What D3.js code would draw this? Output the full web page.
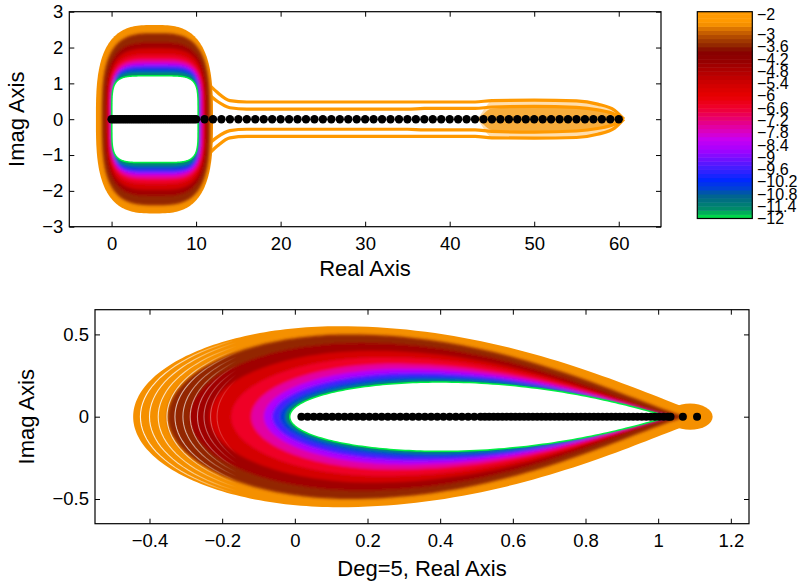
<!DOCTYPE html>
<html>
<head>
<meta charset="utf-8">
<script src="https://cdn.jsdelivr.net/npm/d3@7"></script>
<style>
  body { margin: 0; background: #fff; }
  svg { display: block; font-family: "Liberation Sans", Arial, sans-serif; }
  .tick text { font-size: 18.5px; fill: #000; }
  .tick line { stroke: #000; }
</style>
</head>
<body>
<div id="chart"></div>
<script>
// contour levels (log10 epsilon)
const levels = [-2, -3, -4, -5, -6, -7, -8, -9, -10, -11, -12]

// top panel: blob contours, one value per level
const topLeft  = [-1.85, -1.15, -0.8, -0.55, -0.35, -0.2, -0.08, 0.0, 0.05, 0.09, 0.12]
const topRight = [12.0, 11.65, 11.35, 11.1, 10.9, 10.75, 10.6, 10.48, 10.37, 10.26, 10.15]
const topHalf  = [2.63, 2.40, 2.15, 1.97, 1.80, 1.66, 1.56, 1.49, 1.42, 1.32, 1.19]
const topPower = [3.0, 3.2, 3.4, 3.6, 3.8, 4.0, 4.3, 4.6, 4.9, 5.2, 5.5]

// top panel: thin orange strips along the tail
const tailX     = [11, 12.5, 14, 16, 25, 35, 37, 43, 45, 50, 55, 57.5, 59.5, 60.6]
const tailOuter = [1.1, 0.75, 0.52, 0.48, 0.48, 0.48, 0.48, 0.48, 0.52, 0.53, 0.51, 0.42, 0.25, 0]
const tailInner = [0.8, 0.5, 0.32, 0.28, 0.28, 0.28, 0.30, 0.30, 0.34, 0.36, 0.33, 0.26, 0.14, 0]
const tailGlow  = [0, 0, 0, 0, 0, 0, 0, 0, 0.5, 0.52, 0.5, 0.42, 0.25, 0]
const tailCore  = [0, 0, 0, 0, 0, 0, 0, 0, 0.3, 0.34, 0.31, 0.25, 0.13, 0]

const topEigs = [0, 0.25, 0.5, 0.75, 1, 1.25, 1.5, 1.75, 2, 2.25, 2.5, 2.75, 3, 3.25, 3.5, 3.75,
  4, 4.25, 4.5, 4.75, 5, 5.25, 5.5, 5.75, 6, 6.25, 6.5, 6.75, 7, 7.25, 7.5, 7.75, 8, 8.25, 8.5,
  8.75, 9, 9.25, 9.5, 9.75, 10, 11, 12, 13, 14, 15, 16, 17, 18, 19, 20, 21, 22, 23, 24, 25, 26,
  27, 28, 29, 30, 31, 32, 33, 34, 35, 36, 37, 38, 39, 40, 41, 42, 43, 44, 45, 46, 47, 48, 49, 50,
  51, 52, 53, 54, 55, 56, 57, 58, 59, 60]

// bottom panel: egg shaped contours, one value per level
const botLeft  = [-0.445, -0.35, -0.29, -0.235, -0.175, -0.12, -0.085, -0.062, -0.042, -0.026, -0.012]
const botPeakX = [0.12, 0.15, 0.18, 0.21, 0.24, 0.27, 0.30, 0.33, 0.36, 0.38, 0.40]
const botRight = [1.147, 1.08, 1.05, 1.04, 1.035, 1.03, 1.03, 1.025, 1.025, 1.02, 1.02]
const botHalf  = [0.55, 0.50, 0.45, 0.40, 0.36, 0.32, 0.29, 0.265, 0.245, 0.225, 0.206]
const botPower = [1.15, 1.2, 1.2, 1.18, 1.16, 1.14, 1.12, 1.09, 1.06, 1.03, 1.0]
// small lobe round the two last eigenvalues
const knobX = 1.088, knobRx = 0.062, knobRy = 0.08
// white seams in the outer band (left end)
const seamLeft = [-0.425, -0.400, -0.376, -0.352, -0.330, -0.308, -0.288, -0.268, -0.250, -0.232, -0.214]
const seamHalf = [0.545, 0.535, 0.52, 0.505, 0.495, 0.48, 0.465, 0.45, 0.435, 0.425, 0.415]

const botEigs = [0.018, 0.035, 0.052, 0.069, 0.086, 0.103, 0.120, 0.137, 0.154, 0.171, 0.188,
  0.205, 0.222, 0.239, 0.256, 0.273, 0.290, 0.307, 0.324, 0.341, 0.358, 0.375, 0.392, 0.409,
  0.426, 0.443, 0.460, 0.477, 0.494, 0.511, 0.523, 0.535, 0.547, 0.559, 0.571, 0.583, 0.595,
  0.607, 0.619, 0.631, 0.643, 0.655, 0.667, 0.679, 0.691, 0.703, 0.715, 0.727, 0.739, 0.751,
  0.763, 0.775, 0.787, 0.799, 0.811, 0.823, 0.835, 0.847, 0.859, 0.871, 0.883, 0.895, 0.907,
  0.919, 0.931, 0.943, 0.955, 0.967, 0.979, 0.991, 1.003, 1.015, 1.027, 1.034, 1.068, 1.107]

// colormap
const cmapLevels = [-12, -11.8, -11.5, -11.1, -10.8, -10.5, -10.1, -9.6, -9.1, -8.6, -8.1, -7.6,
  -7.1, -6.6, -6.0, -5.4, -4.8, -4.2, -3.8, -3.6, -3.2, -2.8, -2.5, -2.4, -1.88]
const cmapColors = ["#00ee44", "#00c050", "#008a6a", "#007080", "#005e98", "#0040d8", "#0028ff",
  "#3a20ff", "#7010ff", "#a800ff", "#c800f0", "#e000b0", "#e80070", "#f00030", "#e80000",
  "#d00000", "#b00000", "#900000", "#860000", "#8c2000", "#a84000", "#d06800", "#f59000",
  "#ff9900", "#ff9900"]
const cbarTicks = [-2, -3, -3.6, -4.2, -4.8, -5.4, -6, -6.6, -7.2, -7.8, -8.4, -9, -9.6,
  -10.2, -10.8, -11.4, -12]

const cmap = d3.scaleLinear().domain(cmapLevels).range(cmapColors).clamp(true)
const fmt = d => String(Math.round(d * 100) / 100).replace("-", "\u2212")

const svg = d3.select("#chart").append("svg").attr("width", 801).attr("height", 581)
svg.append("rect").attr("width", 801).attr("height", 581).attr("fill", "#fff")
const defs = svg.append("defs")
defs.append("filter").attr("id", "soft")
  .attr("x", "-10%").attr("y", "-10%").attr("width", "120%").attr("height", "120%")
  .append("feGaussianBlur").attr("stdDeviation", 1.5)

// panels
const topBox = {left: 69.3, right: 661, top: 11.7, bottom: 226.7}
const botBox = {left: 95, right: 749, top: 309.7, bottom: 523.7}

const xTop = d3.scaleLinear().domain([-5, 65]).range([topBox.left, topBox.right])
const yTop = d3.scaleLinear().domain([-3, 3]).range([topBox.bottom, topBox.top])
const xBot = d3.scaleLinear().domain([-0.55, 1.25]).range([botBox.left, botBox.right])
const yBot = d3.scaleLinear().domain([-0.65, 0.65]).range([botBox.bottom, botBox.top])

// shape of one top contour (superellipse)
function blobPoints(i) {
  const cx = (topLeft[i] + topRight[i]) / 2, a = (topRight[i] - topLeft[i]) / 2
  const b = topHalf[i], n = topPower[i]
  const pts = []
  for (let k = 0; k < 240; k++) {
    const t = k / 240 * 2 * Math.PI, c = Math.cos(t), s = Math.sin(t)
    pts.push([cx + a * Math.sign(c) * Math.pow(Math.abs(c), 2 / n),
              b * Math.sign(s) * Math.pow(Math.abs(s), 2 / n)])
  }
  return pts
}

// shape of one bottom contour (round left end, pointed right end)
function eggPoints(i) {
  const L = botLeft[i], P = botPeakX[i], R = botRight[i], h = botHalf[i], q = botPower[i]
  const upper = []
  for (let k = 0; k <= 60; k++) {
    const s = Math.sin((1 - k / 60) * Math.PI / 2)
    upper.push([P + (R - P) * s, h * Math.pow(Math.max(0, 1 - s * s), q)])
  }
  for (let k = 1; k <= 60; k++) {
    const t = Math.PI / 2 + k / 60 * Math.PI / 2
    upper.push([P + (P - L) * Math.cos(t), h * Math.sin(t)])
  }
  const lower = upper.slice().reverse().map(([x, y]) => [x, -y]).slice(1, -1)
  return upper.concat(lower)
}

function drawContours(layer, pointsFor, x, y, id) {
  const line = d3.line().x(d => x(d[0])).y(d => y(d[1]))
  const path = i => line(pointsFor(i)) + "Z"
  const last = levels.length - 1
  defs.append("clipPath").attr("id", id).append("path").attr("d", path(0))
  layer.append("path").attr("d", path(0)).attr("fill", cmap(levels[0] - 0.5))
  const inner = layer.append("g").attr("clip-path", `url(#${id})`)
  inner.append("g").attr("filter", "url(#soft)")
    .selectAll("path").data(d3.range(1, last)).join("path")
      .attr("d", path)
      .attr("fill", i => cmap(levels[i] - 0.5))
  layer.append("path").attr("d", path(last)).attr("fill", "none")
    .attr("stroke", cmap(levels[last])).attr("stroke-width", 3)
  layer.append("path").attr("d", path(last)).attr("fill", "#fff")
  return inner
}

function drawAxes(box, x, y, xticks, yticks) {
  const g = svg.append("g")
  g.append("g").attr("transform", `translate(0,${box.bottom})`)
    .call(d3.axisBottom(x).tickValues(xticks).tickSize(-5).tickSizeOuter(0).tickPadding(10).tickFormat(fmt))
  g.append("g").attr("transform", `translate(0,${box.top})`)
    .call(d3.axisTop(x).tickValues(xticks).tickSize(-5).tickSizeOuter(0).tickFormat(""))
  g.append("g").attr("transform", `translate(${box.left},0)`)
    .call(d3.axisLeft(y).tickValues(yticks).tickSize(-5).tickSizeOuter(0).tickPadding(6).tickFormat(fmt))
  g.append("g").attr("transform", `translate(${box.right},0)`)
    .call(d3.axisRight(y).tickValues(yticks).tickSize(-5).tickSizeOuter(0).tickFormat(""))
  g.selectAll(".domain").remove()
  g.selectAll(".tick text").attr("font-family", null).attr("font-size", null)
  g.append("rect").attr("x", box.left).attr("y", box.top)
    .attr("width", box.right - box.left).attr("height", box.bottom - box.top)
    .attr("fill", "none").attr("stroke", "#000").attr("stroke-width", 1.2)
}

// ---- top panel
const topLayer = svg.append("g")
const tailLine = sign => d3.line().curve(d3.curveMonotoneX)
  .x((d, k) => xTop(tailX[k])).y(d => yTop(sign * d))
const tailArea = vals => d3.area().curve(d3.curveMonotoneX)
  .x((d, k) => xTop(tailX[k])).y0(d => yTop(-d)).y1(d => yTop(d))(vals)
topLayer.append("path").attr("d", tailArea(tailGlow)).attr("fill", "#ffbe5c").attr("opacity", 0.5)
topLayer.append("path").attr("d", tailArea(tailCore)).attr("fill", "#f29200").attr("opacity", 0.65)
;[tailOuter, tailInner].forEach(vals => {
  ;[1, -1].forEach(sign => {
    topLayer.append("path").attr("d", tailLine(sign)(vals))
      .attr("fill", "none").attr("stroke", "#ff9900").attr("stroke-width", 3.2)
  })
})
drawContours(topLayer, blobPoints, xTop, yTop, "clipTop")
topLayer.selectAll("circle").data(topEigs).join("circle")
  .attr("cx", d => xTop(d)).attr("cy", yTop(0)).attr("r", 4.2).attr("fill", "#000")
drawAxes(topBox, xTop, yTop, [0, 10, 20, 30, 40, 50, 60], [-3, -2, -1, 0, 1, 2, 3])

// ---- bottom panel
const botLayer = svg.append("g")
botLayer.append("ellipse")
  .attr("cx", xBot(knobX)).attr("cy", yBot(0))
  .attr("rx", xBot(knobX + knobRx) - xBot(knobX)).attr("ry", yBot(0) - yBot(knobRy))
  .attr("fill", cmap(-2.5))
drawContours(botLayer, eggPoints, xBot, yBot, "clipBot")
// seams on the left end of the outer band, fading to the right
const seamGrad = defs.append("linearGradient").attr("id", "seamGrad")
  .attr("gradientUnits", "userSpaceOnUse")
  .attr("x1", xBot(-0.45)).attr("x2", xBot(-0.16)).attr("y1", 0).attr("y2", 0)
seamGrad.append("stop").attr("offset", 0).attr("stop-color", "#fff").attr("stop-opacity", 0.95)
seamGrad.append("stop").attr("offset", 0.55).attr("stop-color", "#fff").attr("stop-opacity", 0.6)
seamGrad.append("stop").attr("offset", 1).attr("stop-color", "#fff").attr("stop-opacity", 0)
const seamArc = d3.line().x(d => xBot(d[0])).y(d => yBot(d[1]))
botLayer.append("g").selectAll("path").data(seamLeft).join("path")
  .attr("d", (L, j) => seamArc(d3.range(0, 41).map(k => {
    const t = Math.PI * 0.68 + k / 40 * Math.PI * 0.64, P = botPeakX[0]
    return [P + (P - L) * Math.cos(t), seamHalf[j] * Math.sin(t)]
  })))
  .attr("fill", "none").attr("stroke", "url(#seamGrad)").attr("stroke-width", 1.1)
botLayer.selectAll("circle").data(botEigs).join("circle")
  .attr("cx", d => xBot(d)).attr("cy", yBot(0)).attr("r", 4).attr("fill", "#000")
drawAxes(botBox, xBot, yBot, [-0.4, -0.2, 0, 0.2, 0.4, 0.6, 0.8, 1, 1.2], [-0.5, 0, 0.5])

// ---- axis titles
const title = (txt, x, y, rot) => svg.append("text")
  .attr("transform", `translate(${x},${y})${rot ? " rotate(-90)" : ""}`)
  .attr("text-anchor", "middle").attr("font-size", 22).attr("fill", "#000").text(txt)
title("Imag Axis", 24, 119.2, true)
title("Real Axis", 365, 276, false)
title("Imag Axis", 34, 416.7, true)
title("Deg=5, Real Axis", 422, 576, false)

// ---- colorbar
const cb = {left: 697.3, right: 752.3, top: 11.7, bottom: 218.5}
const cbY = d3.scaleLinear().domain([-12, -1.88]).range([cb.bottom, cb.top])
const cbBands = d3.range(-12, -1.88, 0.2)
svg.append("g").selectAll("rect").data(cbBands).join("rect")
  .attr("x", cb.left).attr("width", cb.right - cb.left)
  .attr("y", d => cbY(Math.min(d + 0.2, -1.88)))
  .attr("height", d => cbY(d) - cbY(Math.min(d + 0.2, -1.88)) + 0.5)
  .attr("fill", d => cmap(d + 0.1))
svg.append("rect").attr("x", cb.left).attr("y", cb.top)
  .attr("width", cb.right - cb.left).attr("height", cb.bottom - cb.top)
  .attr("fill", "none").attr("stroke", "#000").attr("stroke-width", 1.2)
svg.append("g").selectAll("text").data(cbarTicks).join("text")
  .attr("x", 757).attr("y", d => cbY(d)).attr("dy", "0.35em")
  .attr("font-size", 16).attr("fill", "#000").text(fmt)
</script>
</body>
</html>
